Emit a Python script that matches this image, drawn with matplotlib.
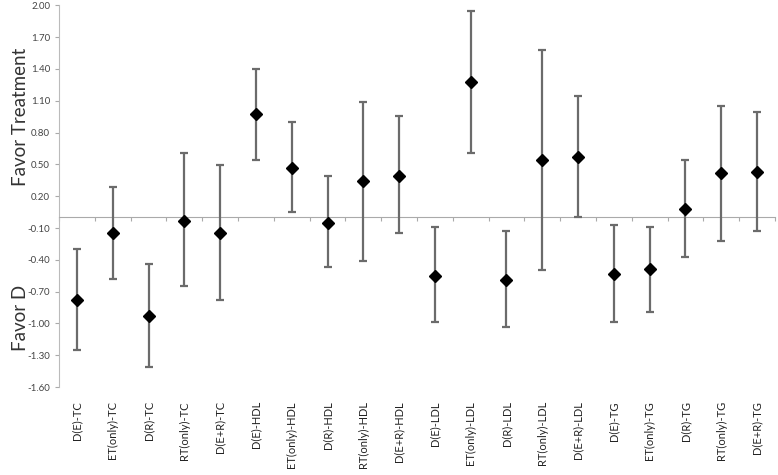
import matplotlib
matplotlib.use("Agg")
import matplotlib.pyplot as plt
import numpy as np

categories = ["D(E)-TC", "ET(only)-TC", "D(R)-TC", "RT(only)-TC", "D(E+R)-TC",
              "D(E)-HDL", "ET(only)-HDL", "D(R)-HDL", "RT(only)-HDL", "D(E+R)-HDL",
              "D(E)-LDL", "ET(only)-LDL", "D(R)-LDL", "RT(only)-LDL", "D(E+R)-LDL",
              "D(E)-TG", "ET(only)-TG", "D(R)-TG", "RT(only)-TG", "D(E+R)-TG"]
estimate = [-0.78, -0.15, -0.93, -0.03, -0.15,
            0.97, 0.47, -0.05, 0.34, 0.39,
            -0.55, 1.28, -0.59, 0.54, 0.57,
            -0.53, -0.49, 0.08, 0.42, 0.43]
upper = [-0.30, 0.29, -0.44, 0.61, 0.49,
         1.40, 0.90, 0.39, 1.09, 0.96,
         -0.09, 1.95, -0.13, 1.58, 1.14,
         -0.07, -0.09, 0.54, 1.05, 0.99]
lower = [-1.25, -0.58, -1.41, -0.65, -0.78,
         0.54, 0.05, -0.47, -0.41, -0.15,
         -0.99, 0.61, -1.03, -0.50, 0.00,
         -0.99, -0.89, -0.37, -0.22, -0.13]
yticks = [-1.60, -1.30, -1.00, -0.70, -0.40, -0.10, 0.20, 0.50, 0.80, 1.10, 1.40, 1.70, 2.00]

plt.rcParams['font.family'] = ['Lato', 'DejaVu Sans']

fig = plt.figure(figsize=(7.78, 4.75), dpi=100)
ax = fig.add_axes([0.076, 0.185, 0.92, 0.804])

x = np.arange(1, len(categories) + 1)
est = np.array(estimate)
yerr = np.vstack([est - np.array(lower), np.array(upper) - est])
ax.errorbar(x, est, yerr=yerr, fmt='D', color='black', markersize=6.5,
            ecolor='#6b6b6b', elinewidth=1.6, capsize=3.2, capthick=1.6, zorder=3)

ax.set_xlim(0.5, len(categories) + 0.5)
ax.set_ylim(-1.60, 2.00)
ax.set_yticks(yticks, labels=[f"{v:.2f}" for v in yticks])
ax.tick_params(axis='y', labelsize=7, labelcolor='#444444', color='#aaaaaa',
               length=3, width=0.8, direction='out')

# zero line as bottom spine with boundary ticks
ax.spines['bottom'].set_position(('data', 0))
ax.spines['bottom'].set_color('#aaaaaa')
ax.spines['left'].set_color('#bbbbbb')
ax.spines['top'].set_visible(False)
ax.spines['right'].set_visible(False)
ax.set_xticks(np.arange(0.5, len(categories) + 1.0, 1.0))
ax.tick_params(axis='x', labelbottom=False, color='#aaaaaa', length=3, width=0.8,
               direction='out')

sec = ax.secondary_xaxis(0)
sec.set_xticks(x, labels=categories, rotation=90)
sec.tick_params(length=0, pad=10, labelsize=8, labelcolor='#222222')
sec.spines['bottom'].set_visible(False)

fig.text(0.026, 0.753, "Favor Treatment", rotation=90, ha='center', va='center',
         fontsize=13.5, color='#333333')
fig.text(0.026, 0.33, "Favor D", rotation=90, ha='center', va='center',
         fontsize=13.5, color='#333333')

fig.savefig("out.png", dpi=100)
